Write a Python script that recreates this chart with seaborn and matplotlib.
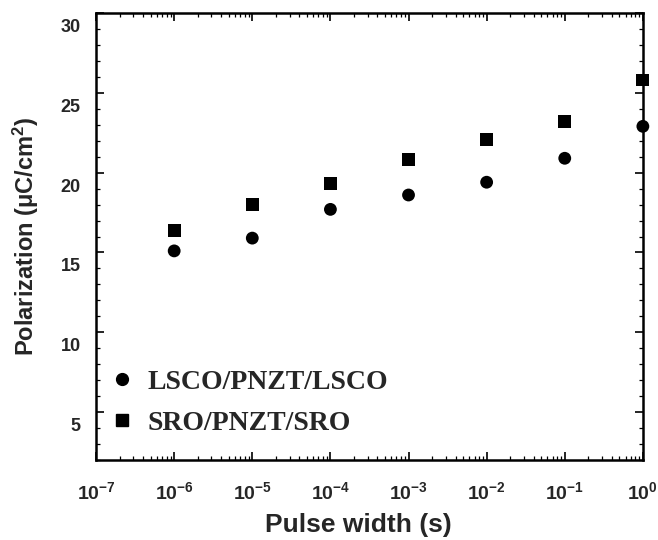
import numpy as np
import pandas as pd
import matplotlib
matplotlib.use("Agg")
import matplotlib.pyplot as plt
import matplotlib.transforms as mtransforms
import seaborn as sns
from matplotlib.ticker import LogLocator, MultipleLocator, NullFormatter, FuncFormatter
from matplotlib.lines import Line2D

# ---- data ----
pulse_width = [1e-6, 1e-5, 1e-4, 1e-3, 1e-2, 1e-1, 1e0]
lsco = [15.1, 15.9, 17.7, 18.6, 19.4, 20.9, 22.9]
sro = [16.4, 18.0, 19.3, 20.8, 22.1, 23.2, 25.8]
series_names = ["LSCO/PNZT/LSCO", "SRO/PNZT/SRO"]
y_ticks = [5, 10, 15, 20, 25, 30]

df = pd.DataFrame({
    "Pulse width": pulse_width * 2,
    "Polarization": lsco + sro,
    "Sample": [series_names[0]] * len(lsco) + [series_names[1]] * len(sro),
})

sns.set_style("ticks")
plt.rcParams["font.family"] = ["Liberation Sans", "DejaVu Sans"]
plt.rcParams["mathtext.fontset"] = "custom"
plt.rcParams["mathtext.rm"] = "Liberation Sans:bold"
plt.rcParams["mathtext.bf"] = "Liberation Sans:bold"
plt.rcParams["mathtext.it"] = "Liberation Sans:bold"
plt.rcParams["mathtext.default"] = "bf"

fig = plt.figure(figsize=(6.58, 5.4), dpi=100)
ax = fig.add_axes([0.146, 0.148, 0.831, 0.828])

sns.scatterplot(data=df, x="Pulse width", y="Polarization", style="Sample",
                markers={series_names[0]: "o", series_names[1]: "s"},
                color="black", s=85, edgecolor="black", linewidth=0,
                legend=False, ax=ax, clip_on=False, zorder=5)

ax.set_xscale("log")
ax.set_xlim(1e-7, 1e0)
ax.set_ylim(2, 30)
ax.set_yticks(y_ticks)
ax.yaxis.set_minor_locator(MultipleLocator(1))
ax.xaxis.set_major_locator(LogLocator(base=10, numticks=20))
ax.xaxis.set_minor_locator(LogLocator(base=10, subs=np.arange(2, 10), numticks=20))
ax.xaxis.set_minor_formatter(NullFormatter())
ax.xaxis.set_major_formatter(FuncFormatter(
    lambda v, p: "$\\mathbf{10^{%d}}$" % int(round(np.log10(v)))))

for sp in ax.spines.values():
    sp.set_linewidth(1.8)
    sp.set_color("black")

ax.tick_params(which="both", direction="in", top=True, right=True, color="black")
ax.tick_params(which="major", length=6, width=1.2)
ax.tick_params(which="minor", length=3, width=0.9)
ax.tick_params(axis="y", labelsize=13, pad=11)
ax.tick_params(axis="x", labelsize=14, pad=15)
for lab in ax.get_yticklabels():
    lab.set_fontweight("bold")

# labels in the original print sit slightly below their ticks
offset = mtransforms.ScaledTranslation(0, -9 / 72, fig.dpi_scale_trans)
for lab in ax.get_yticklabels():
    lab.set_transform(lab.get_transform() + offset)

ax.set_xlabel("Pulse width (s)", fontsize=19, fontweight="bold", labelpad=4)
ax.xaxis.set_label_coords(0.48, -0.118)
ax.set_ylabel("Polarization ($\\mathregular{\\mu}$C/cm$^2$)", fontsize=17,
              fontweight="bold", labelpad=14)

handles = [
    Line2D([], [], marker="o", linestyle="none", color="black", markersize=8.5),
    Line2D([], [], marker="s", linestyle="none", color="black", markersize=8.5),
]
ax.legend(handles, series_names, loc="center left",
          bbox_to_anchor=(0.0, (460 - 402.5) / (460 - 13)),
          frameon=False, prop={"family": "Liberation Serif", "weight": "bold", "size": 20},
          handlelength=1.0, handletextpad=0.4, labelspacing=0.55, borderaxespad=0.05)

fig.savefig("out.png", dpi=100)
